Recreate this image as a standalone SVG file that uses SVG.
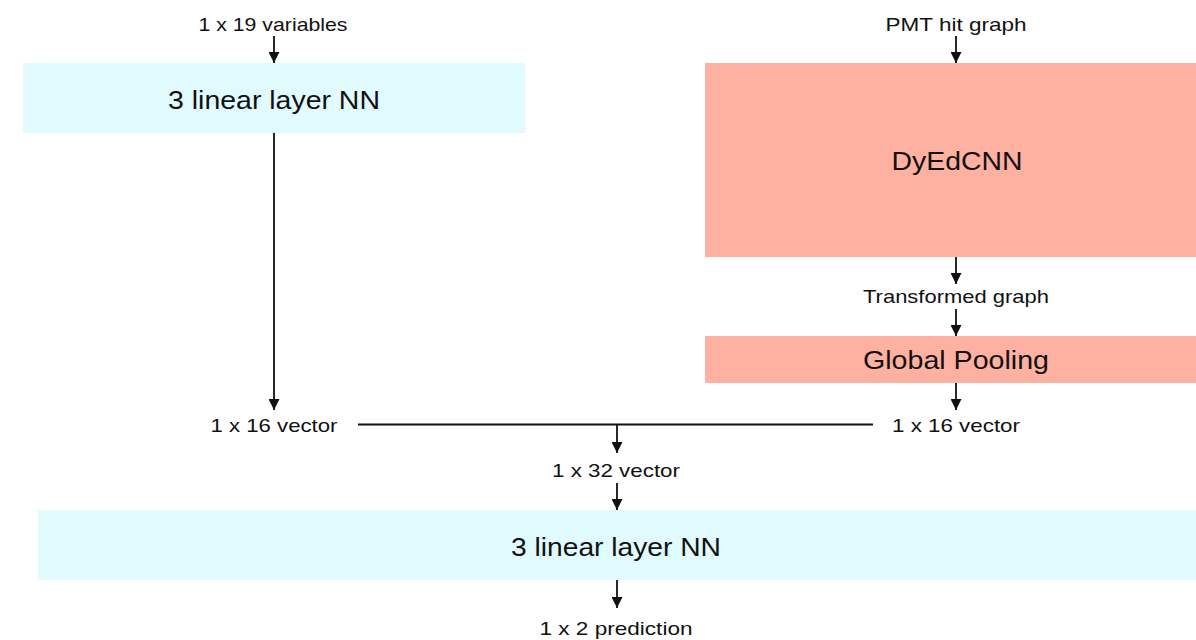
<svg xmlns="http://www.w3.org/2000/svg" width="1196" height="640" viewBox="0 0 1196 640">
<style>
.lbl{font-family:"Liberation Sans",Arial,sans-serif;font-size:19px;fill:#111;text-anchor:middle}
.ttl{font-family:"Liberation Sans",Arial,sans-serif;font-size:26px;fill:#111;text-anchor:middle}
.cyan{fill:#E0FAFE}
.salmon{fill:#FFB1A1}
.ln{stroke:#111;stroke-width:1.8;fill:none}
</style>
<defs>
<marker id="ah" markerUnits="userSpaceOnUse" markerWidth="11" markerHeight="11" refX="11" refY="5.5" orient="auto">
<path d="M0,0 L11,5.5 L0,11 z" fill="#111"/>
</marker>
</defs>
<rect width="1196" height="640" fill="#fff"/>
<g id="nn-top">
<rect class="cyan" x="23" y="63" width="502" height="70"/>
<text class="ttl" x="274" y="109" textLength="212" lengthAdjust="spacingAndGlyphs">3 linear layer NN</text>
</g>
<g id="dyedcnn">
<rect class="salmon" x="705" y="63" width="491" height="194"/>
<text class="ttl" x="957" y="170" textLength="131" lengthAdjust="spacingAndGlyphs">DyEdCNN</text>
</g>
<g id="pooling">
<rect class="salmon" x="705" y="336" width="491" height="47"/>
<text class="ttl" x="956" y="369" textLength="186" lengthAdjust="spacingAndGlyphs">Global Pooling</text>
</g>
<g id="nn-bottom">
<rect class="cyan" x="38" y="510" width="1158" height="70"/>
<text class="ttl" x="616" y="556" textLength="210" lengthAdjust="spacingAndGlyphs">3 linear layer NN</text>
</g>
<g id="labels">
<text class="lbl" x="273" y="31" textLength="149" lengthAdjust="spacingAndGlyphs">1 x 19 variables</text>
<text class="lbl" x="956" y="31" textLength="141" lengthAdjust="spacingAndGlyphs">PMT hit graph</text>
<text class="lbl" x="956" y="303" textLength="186" lengthAdjust="spacingAndGlyphs">Transformed graph</text>
<text class="lbl" x="274" y="432" textLength="127" lengthAdjust="spacingAndGlyphs">1 x 16 vector</text>
<text class="lbl" x="956" y="432" textLength="128" lengthAdjust="spacingAndGlyphs">1 x 16 vector</text>
<text class="lbl" x="616" y="477" textLength="128" lengthAdjust="spacingAndGlyphs">1 x 32 vector</text>
<text class="lbl" x="616" y="635" textLength="153" lengthAdjust="spacingAndGlyphs">1 x 2 prediction</text>
</g>
<g id="connectors">
<line class="ln" x1="274" y1="36" x2="274" y2="63" marker-end="url(#ah)"/>
<line class="ln" x1="956" y1="36" x2="956" y2="63" marker-end="url(#ah)"/>
<line class="ln" x1="274" y1="133" x2="274" y2="410" marker-end="url(#ah)"/>
<line class="ln" x1="956" y1="257" x2="956" y2="284" marker-end="url(#ah)"/>
<line class="ln" x1="956" y1="309" x2="956" y2="336" marker-end="url(#ah)"/>
<line class="ln" x1="956" y1="383" x2="956" y2="410" marker-end="url(#ah)"/>
<line class="ln" x1="358" y1="424.5" x2="873" y2="424.5"/>
<line class="ln" x1="617" y1="424.5" x2="617" y2="453" marker-end="url(#ah)"/>
<line class="ln" x1="617" y1="483" x2="617" y2="510" marker-end="url(#ah)"/>
<line class="ln" x1="617" y1="580" x2="617" y2="608" marker-end="url(#ah)"/>
</g>
</svg>
